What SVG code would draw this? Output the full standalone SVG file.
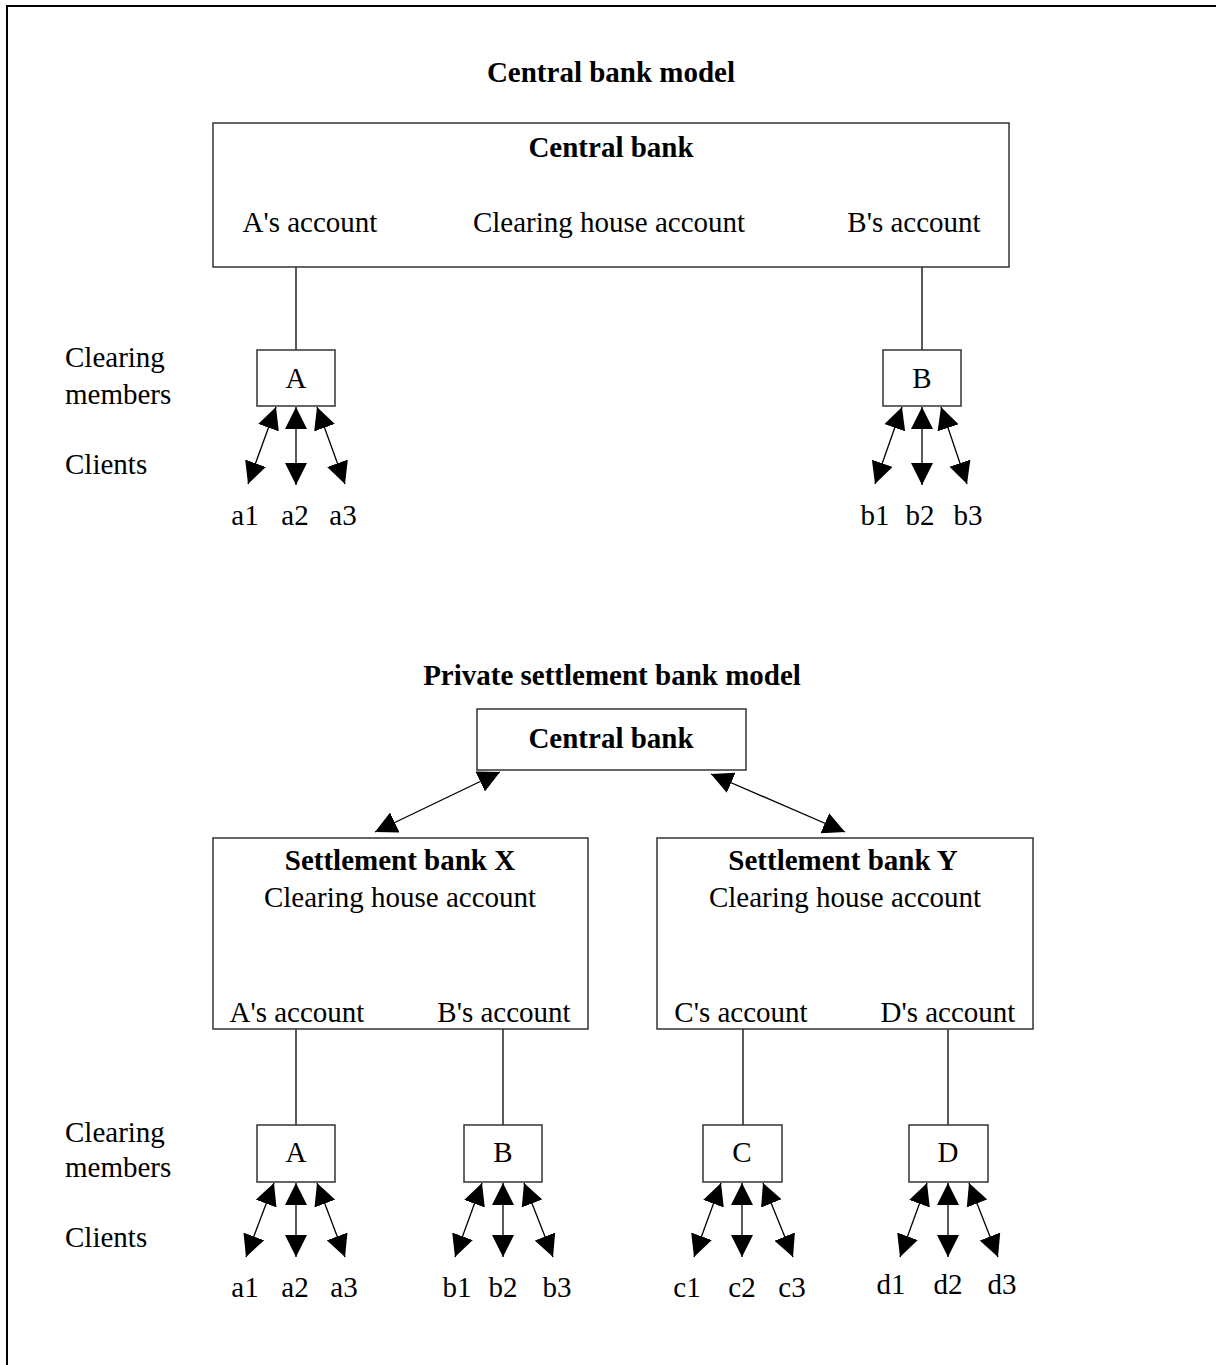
<svg xmlns="http://www.w3.org/2000/svg" width="1216" height="1365" viewBox="0 0 1216 1365">
<defs>
<marker id="ah" markerUnits="userSpaceOnUse" markerWidth="22" markerHeight="22" refX="22" refY="11" orient="auto-start-reverse" viewBox="0 0 22 22">
<path d="M0,0 L22,11 L0,22 z" fill="#000"/>
</marker>
<style>
text{font-family:"Liberation Serif","Times New Roman",serif;font-size:29px;fill:#000}
.b{font-weight:bold}
.m{text-anchor:middle}
.box{fill:#fff;stroke:#333;stroke-width:1.5}
.ln{stroke:#000;stroke-width:1.3;fill:none}
.ar{stroke:#000;stroke-width:1.3;fill:none;marker-start:url(#ah);marker-end:url(#ah)}
</style>
</defs>
<rect width="1216" height="1365" fill="#fff"/>
<path d="M7,1365 V6 H1216" fill="none" stroke="#000" stroke-width="2"/>

<text class="b m" x="611" y="82">Central bank model</text>
<text class="b m" x="612" y="685">Private settlement bank model</text>

<g id="labels">
<text x="65" y="367">Clearing</text>
<text x="65" y="404">members</text>
<text x="65" y="474">Clients</text>
<text x="65" y="1142">Clearing</text>
<text x="65" y="1177">members</text>
<text x="65" y="1247">Clients</text>
</g>

<g id="connectors">
<line class="ln" x1="296" y1="267" x2="296" y2="350"/>
<line class="ln" x1="922" y1="267" x2="922" y2="350"/>
<line class="ar" x1="276" y1="407" x2="248" y2="484"/>
<line class="ar" x1="296" y1="407" x2="296" y2="485"/>
<line class="ar" x1="317" y1="407" x2="345" y2="484"/>
<line class="ar" x1="902" y1="407" x2="875" y2="484"/>
<line class="ar" x1="922" y1="407" x2="922" y2="485"/>
<line class="ar" x1="941" y1="407" x2="967" y2="484"/>
<line class="ar" x1="500" y1="772" x2="375" y2="832"/>
<line class="ar" x1="711" y1="774" x2="845" y2="832"/>
<line class="ln" x1="296" y1="1029" x2="296" y2="1125"/>
<line class="ln" x1="503" y1="1029" x2="503" y2="1125"/>
<line class="ln" x1="743" y1="1029" x2="743" y2="1125"/>
<line class="ln" x1="948" y1="1029" x2="948" y2="1125"/>
<line class="ar" x1="274" y1="1183" x2="246" y2="1257"/>
<line class="ar" x1="296" y1="1183" x2="296" y2="1257"/>
<line class="ar" x1="317" y1="1183" x2="345" y2="1257"/>
<line class="ar" x1="482" y1="1183" x2="455" y2="1257"/>
<line class="ar" x1="503" y1="1183" x2="503" y2="1257"/>
<line class="ar" x1="524" y1="1183" x2="553" y2="1257"/>
<line class="ar" x1="721" y1="1183" x2="694" y2="1257"/>
<line class="ar" x1="742" y1="1183" x2="742" y2="1257"/>
<line class="ar" x1="763" y1="1183" x2="793" y2="1257"/>
<line class="ar" x1="927" y1="1183" x2="900" y2="1257"/>
<line class="ar" x1="948" y1="1183" x2="948" y2="1257"/>
<line class="ar" x1="969" y1="1183" x2="998" y2="1257"/>
</g>

<g id="cb1">
<rect class="box" x="213" y="123" width="796" height="144"/>
<text class="b m" x="611" y="157">Central bank</text>
<text class="m" x="310" y="232">A's account</text>
<text class="m" x="609" y="232">Clearing house account</text>
<text class="m" x="914" y="232">B's account</text>
</g>
<g id="A1"><rect class="box" x="257" y="350" width="78" height="56"/><text class="m" x="296" y="388">A</text></g>
<g id="B1"><rect class="box" x="883" y="350" width="78" height="56"/><text class="m" x="922" y="388">B</text></g>
<g id="clients1">
<text class="m" x="245" y="525">a1</text><text class="m" x="295" y="525">a2</text><text class="m" x="343" y="525">a3</text>
<text class="m" x="875" y="525">b1</text><text class="m" x="920" y="525">b2</text><text class="m" x="968" y="525">b3</text>
</g>

<g id="cb2">
<rect class="box" x="477" y="709" width="269" height="61"/>
<text class="b m" x="611" y="748">Central bank</text>
</g>
<g id="sbX">
<rect class="box" x="213" y="838" width="375" height="191"/>
<text class="b m" x="400" y="870">Settlement bank X</text>
<text class="m" x="400" y="907">Clearing house account</text>
<text class="m" x="297" y="1022">A's account</text>
<text class="m" x="504" y="1022">B's account</text>
</g>
<g id="sbY">
<rect class="box" x="657" y="838" width="376" height="191"/>
<text class="b m" x="843" y="870">Settlement bank Y</text>
<text class="m" x="845" y="907">Clearing house account</text>
<text class="m" x="741" y="1022">C's account</text>
<text class="m" x="948" y="1022">D's account</text>
</g>
<g id="A2"><rect class="box" x="257" y="1125" width="78" height="57"/><text class="m" x="296" y="1162">A</text></g>
<g id="B2"><rect class="box" x="464" y="1125" width="78" height="57"/><text class="m" x="503" y="1162">B</text></g>
<g id="C2"><rect class="box" x="703" y="1125" width="79" height="57"/><text class="m" x="742" y="1162">C</text></g>
<g id="D2"><rect class="box" x="909" y="1125" width="79" height="57"/><text class="m" x="948" y="1162">D</text></g>
<g id="clients2">
<text class="m" x="245" y="1297">a1</text><text class="m" x="295" y="1297">a2</text><text class="m" x="344" y="1297">a3</text>
<text class="m" x="457" y="1297">b1</text><text class="m" x="503" y="1297">b2</text><text class="m" x="557" y="1297">b3</text>
<text class="m" x="687" y="1297">c1</text><text class="m" x="742" y="1297">c2</text><text class="m" x="792" y="1297">c3</text>
<text class="m" x="891" y="1294">d1</text><text class="m" x="948" y="1294">d2</text><text class="m" x="1002" y="1294">d3</text>
</g>
</svg>
